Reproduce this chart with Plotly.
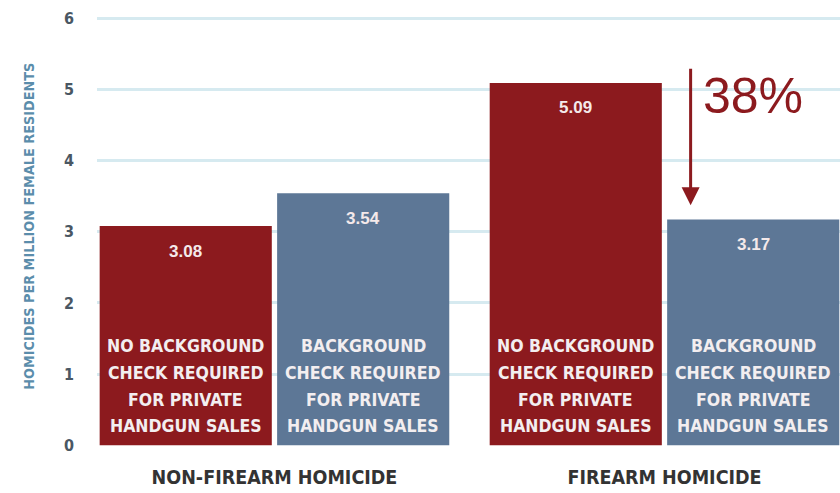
import plotly.graph_objects as go

categories = ["NON-FIREARM HOMICIDE", "FIREARM HOMICIDE"]
no_check_values = [3.08, 5.09]
check_values = [3.54, 3.17]
no_check_lines = ["NO BACKGROUND", "CHECK REQUIRED", "FOR PRIVATE", "HANDGUN SALES"]
check_lines = ["BACKGROUND", "CHECK REQUIRED", "FOR PRIVATE", "HANDGUN SALES"]
y_ticks = [0, 1, 2, 3, 4, 5, 6]
y_title = "HOMICIDES PER MILLION FEMALE RESIDENTS"

RED = "#8c1a1e"
BLUE = "#5d7796"
GRID = "#d6eaf0"
COND = "Liberation Sans Narrow, DejaVu Sans Condensed, Arial Narrow, sans-serif"

bargap = 0.09
bargroupgap = 0.03
half_w = (1 - bargap) / 4  # offset of bar centre from category centre

fig = go.Figure()
fig.add_trace(go.Bar(x=categories, y=no_check_values, marker=dict(color=RED, line=dict(width=0)),
                     name="No background check", hoverinfo="y"))
fig.add_trace(go.Bar(x=categories, y=check_values, marker=dict(color=BLUE, line=dict(width=0)),
                     name="Background check", hoverinfo="y"))

ann = []
for i, cat in enumerate(categories):
    for vals, lines, off in ((no_check_values, no_check_lines, -half_w), (check_values, check_lines, half_w)):
        v = vals[i]
        ann.append(dict(x=i + off, y=v, xref="x", yref="y", text=f"<b>{v:.2f}</b>", showarrow=False,
                        yanchor="middle", yshift=-25, font=dict(family="Liberation Sans, Arial, sans-serif",
                                                               size=17, color="#f4e9ea")))
        n = len(lines)
        for k, line in enumerate(lines):
            ann.append(dict(x=i + off, y=0, xref="x", yref="y", text=f"<b>{line}</b>", showarrow=False,
                            yanchor="middle", yshift=19 + 26.7 * (n - 1 - k), align="center",
                            font=dict(family=COND, size=17.5, color="#f3eef0")))

# reduction arrow
red_v, blue_v = no_check_values[1], check_values[1]
pct = round((red_v - blue_v) / red_v * 100)
arrow_x = 1 + 0.067
ann.append(dict(x=arrow_x, y=blue_v + 0.2, ax=arrow_x, ay=red_v + 0.22, xref="x", yref="y",
                axref="x", ayref="y", text="", showarrow=True, arrowhead=2, arrowsize=1.2,
                arrowwidth=3, arrowcolor=RED, standoff=0))
ann.append(dict(x=arrow_x, y=red_v - 0.19, xref="x", yref="y", text=f"{pct}%", showarrow=False,
                xanchor="left", xshift=10, yanchor="middle",
                font=dict(family="Liberation Sans, Arial, sans-serif", size=50, color=RED)))
ann.append(dict(x=0, y=0.51, xref="paper", yref="paper", xshift=-78, text=f"<b>{y_title}</b>",
                textangle=-90, showarrow=False, font=dict(family=COND, size=14.3, color="#5b8dab")))

fig.update_layout(
    width=840, height=493,
    margin=dict(l=97, r=0, t=16, b=47),
    paper_bgcolor="white", plot_bgcolor="white",
    barmode="group", bargap=bargap, bargroupgap=bargroupgap,
    showlegend=False,
    annotations=ann,
    xaxis=dict(range=[-0.455, 1.45], showgrid=False, zeroline=False, showline=False, automargin=False,
               ticks="", ticklabelstandoff=17, tickfont=dict(family=COND, size=19.5, color="#333333"),
               tickvals=categories, ticktext=[f"<b>{c}</b>" for c in categories]),
    yaxis=dict(range=[-0.01, 6.03], tickvals=y_ticks, ticktext=[f"<b>{t}</b>" for t in y_ticks],
               showgrid=True, gridcolor=GRID, gridwidth=3, automargin=False,
               zeroline=False, showline=False, ticks="", ticklabelstandoff=22,
               tickfont=dict(family=COND, size=16, color="#4a5763")),
)

fig.write_html("out.html", config={"displayModeBar": False},
               post_script="document.body.style.margin='0';")
